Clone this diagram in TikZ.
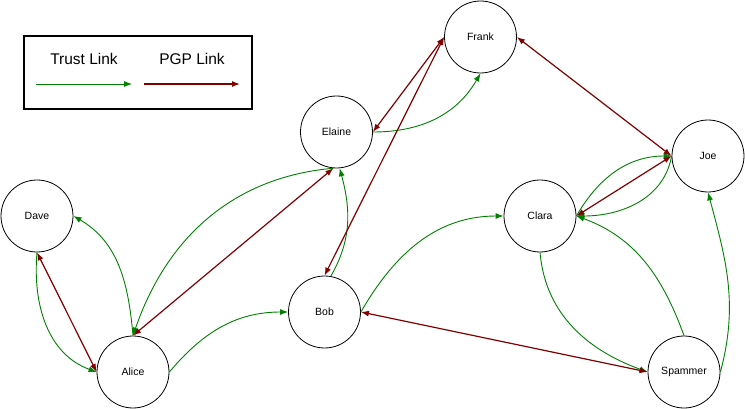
\documentclass[tikz,border=0pt]{standalone}
\usepackage{fontspec}
\setmainfont{Liberation Sans}
\usetikzlibrary{arrows.meta}
\definecolor{trustgreen}{RGB}{0,128,0}
\definecolor{pgpred}{RGB}{128,0,0}

\begin{document}
\begin{tikzpicture}[x=1pt,y=1pt,>={Latex[length=8pt,width=6pt]},
        person/.style={circle,draw,line width=0.8pt,minimum size=72pt,inner sep=0pt,
            font=\fontsize{10.5}{12}\selectfont},
        legendtext/.style={font=\fontsize{15.5}{18}\selectfont},
        trust/.style={->,trustgreen,line width=0.9pt},
        pgp/.style={<->,pgpred,line width=1.2pt}]
        \useasboundingbox (0,0) rectangle (745,-409);

        % draw the legend
        \draw[line width=1.2pt] (24,-36) rectangle (252,-109);
        \node[legendtext] (trustlabel) at (84,-59) {Trust Link};
        \node[legendtext] (pgplabel) at (192,-59) {PGP Link};
        \coordinate (trustA) at (36,-84);
        \coordinate (trustB) at (132,-84);
        \coordinate (pgpA) at (144,-84);
        \coordinate (pgpB) at (240,-84);
        \draw[trust] (trustA) -- (trustB);
        \draw[pgpred,line width=1.2pt,->] (pgpA) -- (pgpB);

        % draw the people
        \foreach \name/\x/\y/\txt in {
            frank/480.5/-37/Frank,
            elaine/336.5/-132/Elaine,
            dave/37/-216/Dave,
            alice/133/-372/Alice,
            bob/324.5/-312/Bob,
            clara/540/-216/Clara,
            joe/708/-156/Joe,
            spammer/684/-372/Spammer}
                \node[person] (\name) at (\x,\y) {\txt};

        % trust links
        \foreach \a/\b/\o/\i in {
            elaine.east/frank.south/0/-120,
            alice.north/dave.east/95/-30,
            dave.south/alice.west/-95/160,
            elaine.-95/alice.north/185/71,
            bob.80/elaine.-85/60/-75,
            alice.east/bob.west/50/180,
            bob.east/clara.west/60/180,
            clara.east/joe.west/60/180,
            joe.west/clara.east/-100/0,
            spammer.north/clara.east/110/-20,
            clara.south/spammer.west/-85/160,
            spammer.east/joe.south/75/-75}
                \draw[trust] (\a) to[out=\o,in=\i] (\b);

        % pgp links
        \foreach \a/\b in {
            frank.west/elaine.east,
            frank.west/bob.north,
            frank.east/joe.west,
            joe.west/clara.east,
            elaine.-95/alice.north,
            dave.south/alice.west,
            bob.east/spammer.west}
                \draw[pgp] (\a) -- (\b);
\end{tikzpicture}
\end{document}
